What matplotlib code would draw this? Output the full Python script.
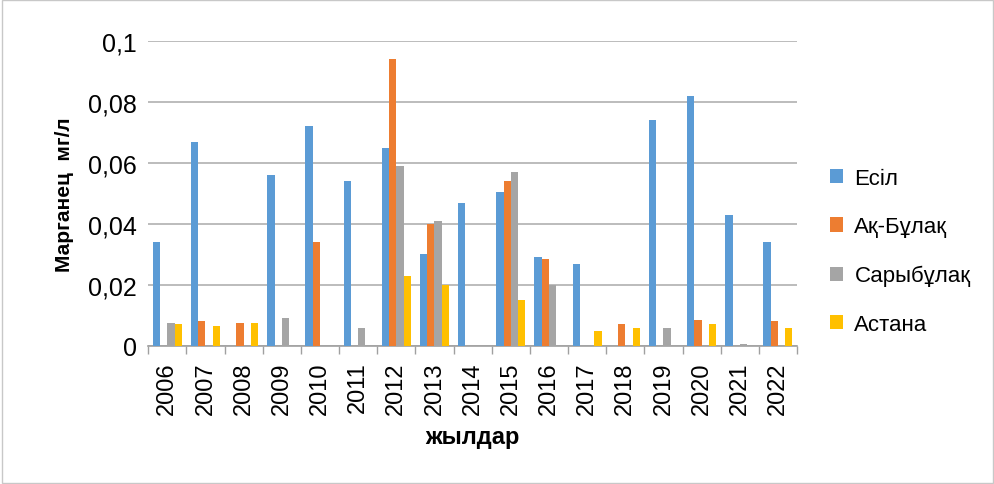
import numpy as np
import matplotlib.pyplot as plt

plt.rcParams['font.family'] = ['Liberation Sans', 'DejaVu Sans']

years = ['2006', '2007', '2008', '2009', '2010', '2011', '2012', '2013', '2014',
         '2015', '2016', '2017', '2018', '2019', '2020', '2021', '2022']
esil = [0.034, 0.067, 0, 0.056, 0.072, 0.054, 0.065, 0.030, 0.047,
        0.0505, 0.029, 0.027, 0, 0.074, 0.082, 0.043, 0.034]
ak_bulak = [0, 0.008, 0.0075, 0, 0.034, 0, 0.094, 0.040, 0,
            0.054, 0.0285, 0, 0.007, 0, 0.0085, 0, 0.008]
sarybulak = [0.0075, 0, 0, 0.009, 0, 0.006, 0.059, 0.041, 0,
             0.057, 0.020, 0, 0, 0.006, 0, 0.0005, 0]
astana = [0.007, 0.0065, 0.0075, 0, 0, 0, 0.023, 0.020, 0,
          0.015, 0, 0.005, 0.006, 0, 0.007, 0, 0.006]

series = [('Есіл', esil, '#5b9bd5'),
          ('Ақ-Бұлақ', ak_bulak, '#ed7d31'),
          ('Сарыбұлақ', sarybulak, '#a5a5a5'),
          ('Астана', astana, '#ffc000')]

fig = plt.figure(figsize=(9.95, 4.85), dpi=100)
ax = fig.add_axes([0.149, 0.285, 0.652, 0.628])

x = np.arange(len(years))
w = 0.19
for i, (name, vals, col) in enumerate(series):
    ax.bar(x + (i - 1.5) * w, vals, w, color=col, label=name, zorder=3)

ax.set_xlim(-0.5, len(years) - 0.5)
ax.set_ylim(0, 0.1)
ax.set_yticks(np.arange(0, 0.101, 0.02))
ax.set_yticklabels(['0', '0,02', '0,04', '0,06', '0,08', '0,1'], fontsize=18)
ax.yaxis.grid(True, color='#b0b0b0', linewidth=1.2, zorder=0)
ax.tick_params(axis='y', length=0, pad=8)

ax.set_xticks(x)
ax.set_xticklabels(years, rotation=90, fontsize=17)
ax.set_xticks(np.arange(-0.5, len(years)), minor=True)
ax.tick_params(axis='x', which='major', length=0, pad=11)
ax.tick_params(axis='x', which='minor', length=6, color='#a0a0a0', width=1)

for s in ['top', 'right', 'left']:
    ax.spines[s].set_visible(False)
ax.spines['bottom'].set_color('#a0a0a0')
ax.spines['bottom'].set_linewidth(1.2)

ax.set_ylabel('Марганец  мг/л', fontsize=15, fontweight='bold', labelpad=10)
ax.set_xlabel('жылдар', fontsize=17, fontweight='bold', labelpad=8)

ax.legend(loc='center left', bbox_to_anchor=(1.02, 0.31), frameon=False,
          fontsize=16, handlelength=0.6, handleheight=0.6, labelspacing=1.25,
          handletextpad=0.5)

# outer chart border
fig.patches.append(plt.Rectangle((0.002, 0.003), 0.996, 0.994, transform=fig.transFigure,
                                 fill=False, edgecolor='#c8c8c8', linewidth=1))

fig.savefig('out.png', dpi=100)
